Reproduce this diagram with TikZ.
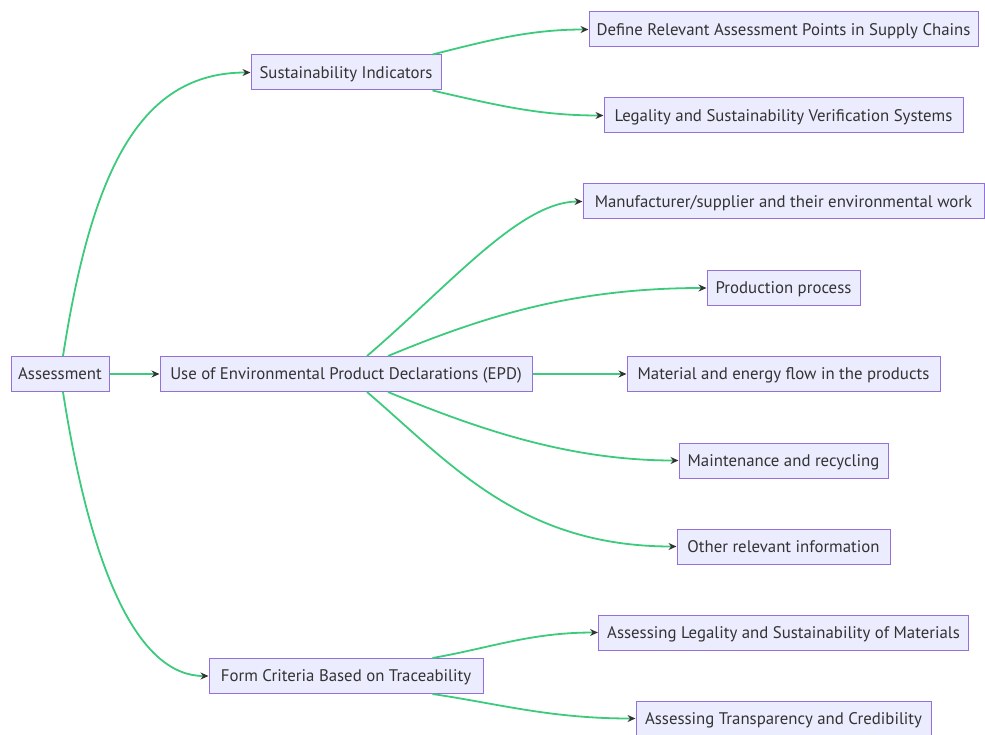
\documentclass[tikz,border=0pt]{standalone}
\usepackage{fontspec}
\setmainfont{PT Sans}
\usetikzlibrary{calc,arrows.meta}
\definecolor{nodefill}{HTML}{ECECFF}
\definecolor{nodeline}{HTML}{9370DB}
\definecolor{edgecol}{HTML}{3CCB7C}
\definecolor{txt}{HTML}{333333}
\tikzset{
  box/.style={draw=nodeline, fill=nodefill, line width=1pt, minimum height=35pt, inner sep=0pt,
    text=txt, font=\fontsize{16.8}{19}\selectfont, text height=14pt, text depth=2.5pt},
  link/.style={draw=edgecol, line width=1.8pt, -{Stealth[length=8pt,width=7pt,color=txt]}}
}
\begin{document}
\begin{tikzpicture}[x=1pt,y=-1pt]
\useasboundingbox (0,0) rectangle (985,735);
\node[box, minimum width=98pt] (as) at (60,374) {Assessment};
\node[box, minimum width=372pt] (epd) at (346,374) {Use of Environmental Product Declarations (EPD)};
\node[box, minimum width=190pt] (si) at (346,72.5) {Sustainability Indicators};
\node[box, minimum width=274pt] (fc) at (346,676) {Form Criteria Based on Traceability};
\node[box, minimum width=389pt] (d1) at (783.5,29.5) {Define Relevant Assessment Points in Supply Chains};
\node[box, minimum width=359pt] (d2) at (783.5,115.5) {Legality and Sustainability Verification Systems};
\node[box, minimum width=401pt] (e1) at (783.5,201.5) {Manufacturer/supplier and their environmental work};
\node[box, minimum width=153pt] (e2) at (783.5,288) {Production process};
\node[box, minimum width=313pt] (e3) at (783.5,374) {Material and energy flow in the products};
\node[box, minimum width=209pt] (e4) at (783.5,460.5) {Maintenance and recycling};
\node[box, minimum width=213pt] (e5) at (783.5,546.5) {Other relevant information};
\node[box, minimum width=370pt] (f1) at (783.5,632.5) {Assessing Legality and Sustainability of Materials};
\node[box, minimum width=295pt] (f2) at (783.5,718.5) {Assessing Transparency and Credibility};

\draw[link] ($(as.north)+(3,0)$) .. controls (92,170) and (140,72.5) .. (si.west);
\draw[link] (as.east) -- (epd.west);
\draw[link] ($(as.south)+(3,0)$) .. controls (92,578) and (140,676) .. (fc.west);

\draw[link] ($(si.north east)+(-9,0)$) .. controls (490,40) and (530,29.5) .. (d1.west);
\draw[link] ($(si.south east)+(-9,0)$) .. controls (500,106) and (540,115.5) .. (d2.west);

\draw[link] ($(epd.north)+(21,0)$) .. controls (450,285) and (520,201.5) .. (e1.west);
\draw[link] ($(epd.north)+(42,0)$) .. controls (480,318) and (570,288) .. (e2.west);
\draw[link] (epd.east) -- (e3.west);
\draw[link] ($(epd.south)+(42,0)$) .. controls (480,430) and (570,460.5) .. (e4.west);
\draw[link] ($(epd.south)+(21,0)$) .. controls (450,463) and (520,546.5) .. (e5.west);

\draw[link] ($(fc.north east)+(-51,0)$) .. controls (490,648) and (530,632.5) .. (f1.west);
\draw[link] ($(fc.south east)+(-51,0)$) .. controls (500,704) and (550,718.5) .. (f2.west);
\end{tikzpicture}
\end{document}
